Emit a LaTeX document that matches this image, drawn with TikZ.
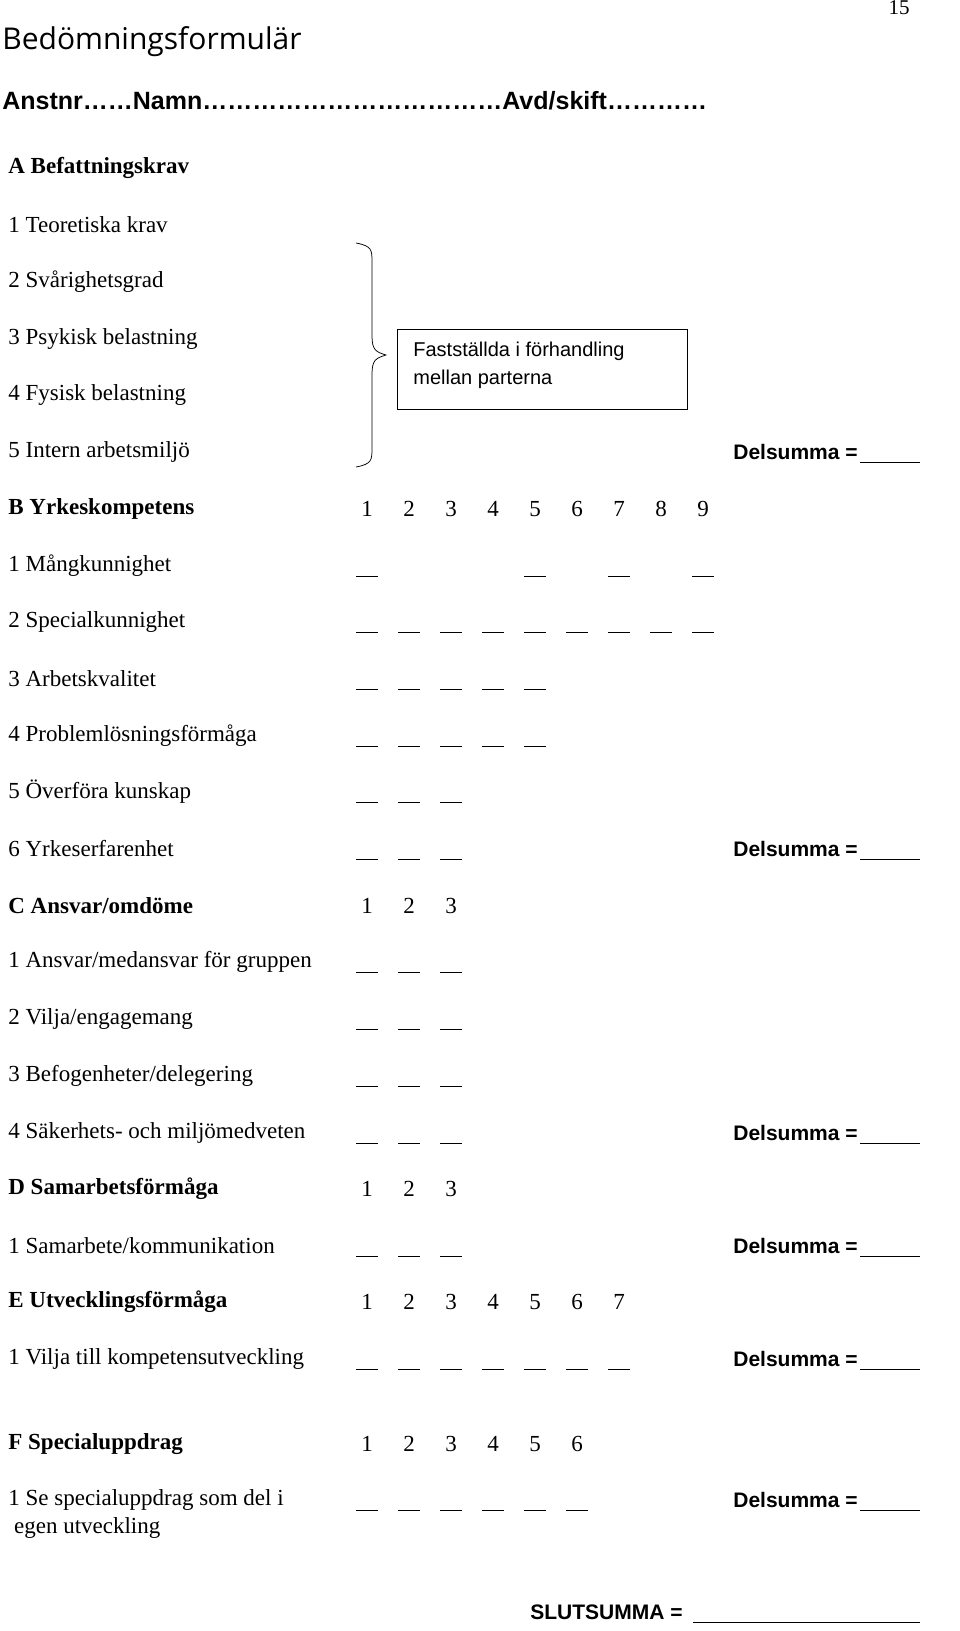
\documentclass[tikz,border=0pt]{standalone}
\usepackage{fontspec}
\setmainfont{Liberation Serif}
\newfontfamily\titlefont{Open Sans}
\newfontfamily\headfont{Liberation Sans}
\usetikzlibrary{positioning}

\tikzset{every picture/.style={line width=0.75pt}}
\tikzset{
  rowtext/.style={anchor=west,inner sep=0pt,font=\fontsize{23}{28}\selectfont},
  headtext/.style={rowtext,font=\fontsize{23}{28}\selectfont\bfseries},
  numtext/.style={inner sep=0pt,font=\fontsize{23}{28}\selectfont},
  sumtext/.style={anchor=west,inner sep=0pt,font=\headfont\fontsize{21}{25}\selectfont\bfseries},
}
% blanks: row y, list of column indices
\newcommand{\blanks}[2]{\foreach \c in {#2} {\draw (367+42*\c-42-11,#1+10) -- (367+42*\c-42+11,#1+10);}}
\newcommand{\delsum}[2]{\node[sumtext] (#1) at (733,#2) {Delsumma =}; \draw (860,#2+10) -- (920,#2+10);}
\newcommand{\numbers}[2]{\foreach \c in {1,...,#2} {\node[numtext] at (367+42*\c-42,#1) {\c};}}

\begin{document}
\begin{tikzpicture}[x=1pt,y=1pt,yscale=-1,xscale=1]
\useasboundingbox (0,0) rectangle (960,1631);

% header
\node[anchor=north east,inner sep=0pt,font=\fontsize{21}{24}\selectfont] (page) at (910,0) {15};
\node[anchor=west,inner sep=0pt,font=\titlefont\fontsize{30}{34}\selectfont] (title) at (2,42) {Bedömningsformulär};
\node[anchor=west,inner sep=0pt,font=\headfont\fontsize{25}{30}\selectfont\bfseries] (ident) at (2,101)
  {Anstnr\dotfill……Namn………………………………Avd/skift…………};
\node[anchor=west,inner sep=0pt,font=\headfont\fontsize{25}{30}\selectfont\bfseries] at (0,101) {};

% A
\node[headtext] (A) at (8,168) {A Befattningskrav};
\node[rowtext] (A1) at (8,225) {1 Teoretiska krav};
\node[rowtext] (A2) at (8,282) {2 Svårighetsgrad};
\node[rowtext] (A3) at (8,339) {3 Psykisk belastning};
\node[rowtext] (A4) at (8,395) {4 Fysisk belastning};
\node[rowtext] (A5) at (8,452) {5 Intern arbetsmiljö};
\delsum{sumA}{452}
\draw (356,243) .. controls (372,246) and (372,250) .. (372,262) -- (372,336) .. controls (372,350) and (376,352) .. (386,355)
  .. controls (376,358) and (372,360) .. (372,374) -- (372,448) .. controls (372,460) and (372,464) .. (356,467);
\node[draw,minimum width=290pt,minimum height=80pt,anchor=north west] (note) at (397,329) {};
\node[anchor=north west,inner sep=0pt,align=left,font=\headfont\fontsize{20}{28}\selectfont] (notetext) at (413,342)
  {Fastställda i förhandling\\mellan parterna};

% B
\node[headtext] (B) at (8,509) {B Yrkeskompetens};
\numbers{509}{9}
\node[rowtext] (B1) at (8,566) {1 Mångkunnighet};
\blanks{566}{1,5,7,9}
\node[rowtext] (B2) at (8,622) {2 Specialkunnighet};
\blanks{622}{1,...,9}
\node[rowtext] (B3) at (8,679) {3 Arbetskvalitet};
\blanks{679}{1,...,5}
\node[rowtext] (B4) at (8,736) {4 Problemlösningsförmåga};
\blanks{736}{1,...,5}
\node[rowtext] (B5) at (8,792) {5 Överföra kunskap};
\blanks{792}{1,2,3}
\node[rowtext] (B6) at (8,849) {6 Yrkeserfarenhet};
\blanks{849}{1,2,3}
\delsum{sumB}{849}

% C
\node[headtext] (C) at (8,906) {C Ansvar/omdöme};
\numbers{906}{3}
\node[rowtext] (C1) at (8,962) {1 Ansvar/medansvar för gruppen};
\blanks{962}{1,2,3}
\node[rowtext] (C2) at (8,1019) {2 Vilja/engagemang};
\blanks{1019}{1,2,3}
\node[rowtext] (C3) at (8,1076) {3 Befogenheter/delegering};
\blanks{1076}{1,2,3}
\node[rowtext] (C4) at (8,1133) {4 Säkerhets- och miljömedveten};
\blanks{1133}{1,2,3}
\delsum{sumC}{1133}

% D
\node[headtext] (D) at (8,1189) {D Samarbetsförmåga};
\numbers{1189}{3}
\node[rowtext] (D1) at (8,1246) {1 Samarbete/kommunikation};
\blanks{1246}{1,2,3}
\delsum{sumD}{1246}

% E
\node[headtext] (E) at (8,1302) {E Utvecklingsförmåga};
\numbers{1302}{7}
\node[rowtext] (E1) at (8,1359) {1 Vilja till kompetensutveckling};
\blanks{1359}{1,...,7}
\delsum{sumE}{1359}

% F
\node[headtext] (F) at (8,1444) {F Specialuppdrag};
\numbers{1444}{6}
\node[rowtext,align=left] (F1) at (8,1514) {1 Se specialuppdrag som del i\\\ egen utveckling};
\blanks{1500}{1,...,6}
\delsum{sumF}{1500}

\node[sumtext] (total) at (530,1612) {SLUTSUMMA =};
\draw (693,1622) -- (920,1622);
\end{tikzpicture}
\end{document}
